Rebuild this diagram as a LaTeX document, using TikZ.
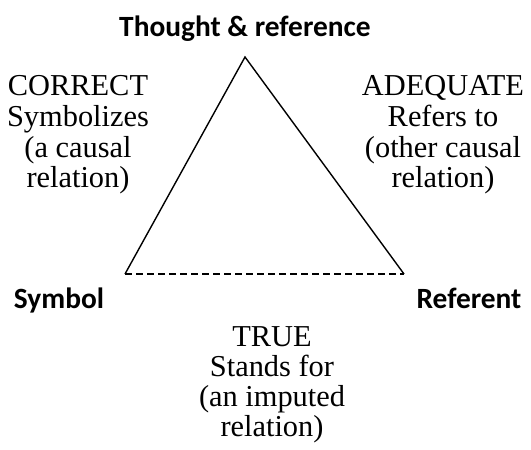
\documentclass[tikz,border=0pt]{standalone}
\usepackage{fontspec}
\setmainfont{Liberation Serif}
\newfontfamily\lblfont{Carlito}
\begin{document}
\begin{tikzpicture}[x=1bp,y=-1bp,
  serif/.style={font=\fontsize{30.5}{31}\selectfont, align=center, inner sep=0pt, anchor=base},
  corner/.style={font=\lblfont\bfseries\fontsize{29.5}{31}\selectfont, inner sep=0pt, anchor=base},
  side/.style={line width=1.4bp},
  base/.style={line width=1.4bp, dash pattern=on 7bp off 4bp}]
\useasboundingbox (0,0) rectangle (531,450);
\coordinate (A) at (245,57);
\coordinate (L) at (125,274);
\coordinate (R) at (404,274);
\draw[side, line join=miter] (L) -- (A) -- (R);
\draw[base] (L) -- (R);
\node[corner] (thought) at (245,37) {Thought \& reference};
\node[corner] (symbol) at (59,308) {Symbol};
\node[corner] (referent) at (469,308) {Referent};
% anchor=base of a multi-line node is the last line's baseline
\node[serif] (correct) at (78,188) {CORRECT\\Symbolizes\\(a causal\\relation)};
\node[serif] (adequate) at (443,188) {ADEQUATE\\Refers to\\(other causal\\relation)};
\node[serif, font=\fontsize{30.5}{30}\selectfont] (true) at (272,436) {TRUE\\Stands for\\(an imputed\\relation)};
\end{tikzpicture}
\end{document}
